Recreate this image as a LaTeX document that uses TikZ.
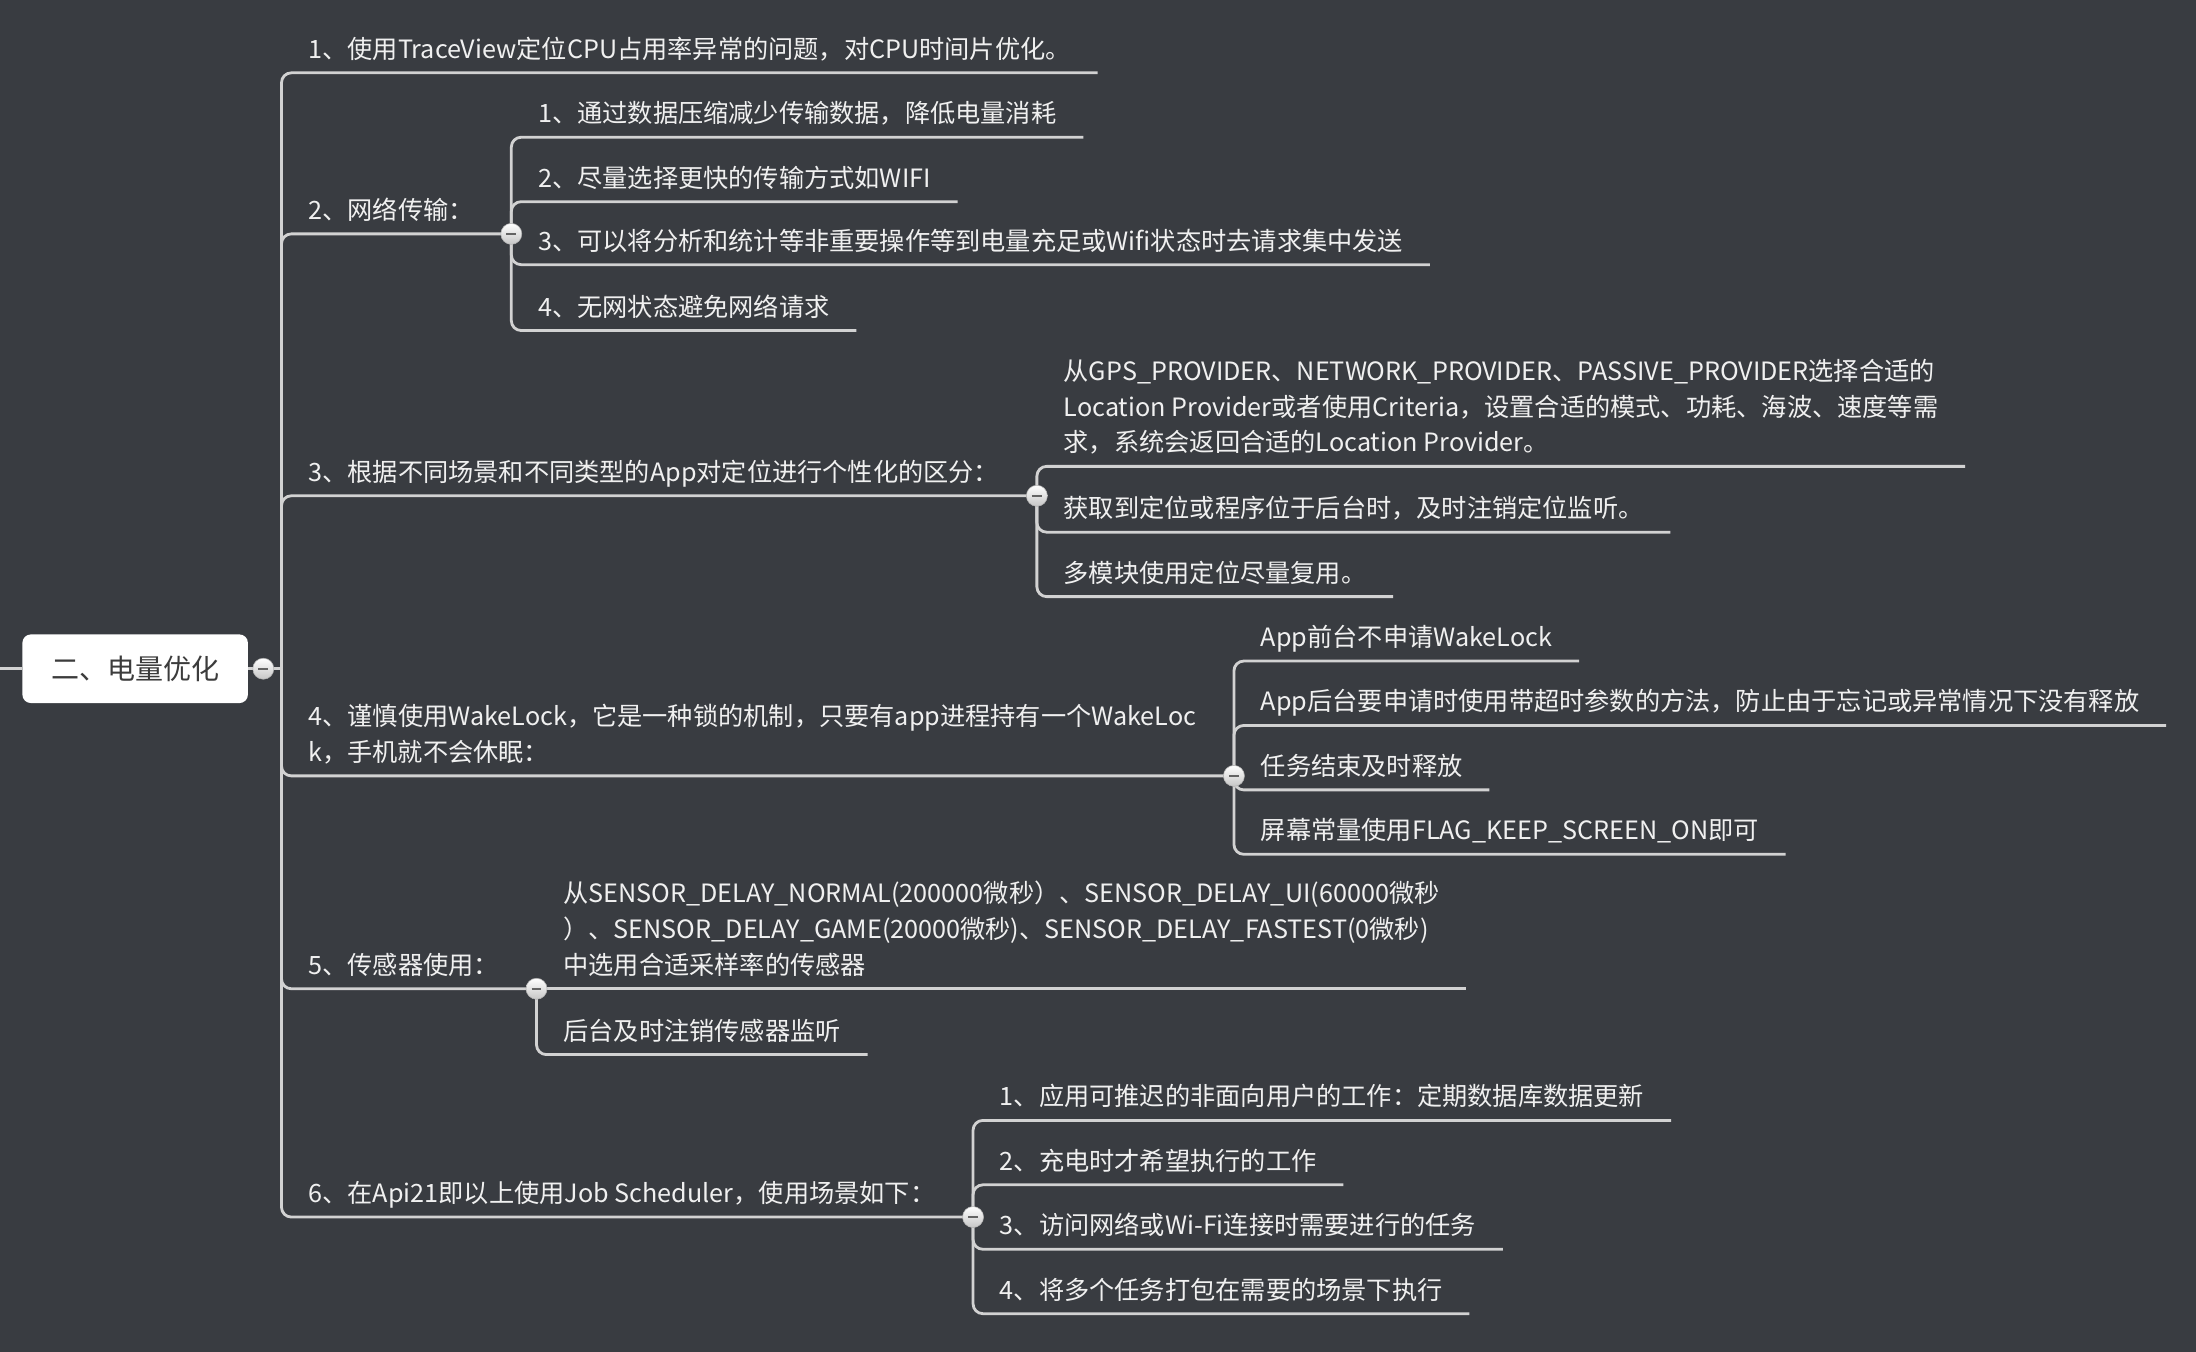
\documentclass[tikz,border=0pt]{standalone}
\usepackage{fontspec}
\setmainfont{Noto Sans CJK SC}
\usepackage{tikz}
\usetikzlibrary{positioning}
\usepackage{xcolor}
\definecolor{bgdark}{HTML}{393C41}
\definecolor{linkgray}{HTML}{D2D2D2}
\definecolor{txtlight}{HTML}{F0F0F0}
\definecolor{rootink}{HTML}{3C3C3C}
\pgfdeclarelayer{back}
\pgfsetlayers{back,main}

\begin{document}
\begin{tikzpicture}[
    x=1pt, y=-1pt,
    root/.style={fill=white, rounded corners=6pt, minimum width=161pt, minimum height=49pt, font=\fontsize{20}{24}\selectfont, text=rootink},
    topic/.style={anchor=south west, inner xsep=19pt, inner ysep=2.5pt, align=left, text=txtlight, font=\fontsize{18}{25.5}\selectfont, execute at end node=\strut},
    btn/.style={circle, draw=gray!60, top color=white, bottom color=gray!45, minimum size=15pt, inner sep=0pt,
        path picture={\draw[rootink!80, line width=1.6pt] ([xshift=-3.5pt]path picture bounding box.center) -- ([xshift=3.5pt]path picture bounding box.center);}},
    link/.style={draw=linkgray, line width=2pt, rounded corners=7pt}
]
\useasboundingbox (0,0) rectangle (1568,965.35);

\node[root] (root) at (96.5,477.5) {二、电量优化};
\coordinate (lft) at (0,477.5);
\node[btn] (rbtn) at (188,477.5) {};
\coordinate (trunk) at (201,477.5);

\node[topic] (t1) at (201,52) {1、使用TraceView定位CPU占用率异常的问题，对CPU时间片优化。};

\node[topic] (t2) at (201,167) {2、网络传输：};
\node[btn, right=0pt of t2.south east] (b2) {};
\node[topic] (t21) at (b2 |- 0,98) {1、通过数据压缩减少传输数据，降低电量消耗};
\node[topic] (t22) at (b2 |- 0,144) {2、尽量选择更快的传输方式如WIFI};
\node[topic] (t23) at (b2 |- 0,189) {3、可以将分析和统计等非重要操作等到电量充足或Wifi状态时去请求集中发送};
\node[topic] (t24) at (b2 |- 0,236) {4、无网状态避免网络请求};

\node[topic] (t3) at (201,354) {3、根据不同场景和不同类型的App对定位进行个性化的区分：};
\node[btn, right=0pt of t3.south east] (b3) {};
\node[topic] (t31) at (b3 |- 0,333) {从GPS\_PROVIDER、NETWORK\_PROVIDER、PASSIVE\_PROVIDER选择合适的\\Location Provider或者使用Criteria，设置合适的模式、功耗、海波、速度等需\\求，系统会返回合适的Location Provider。};
\node[topic] (t32) at (b3 |- 0,380) {获取到定位或程序位于后台时，及时注销定位监听。};
\node[topic] (t33) at (b3 |- 0,426) {多模块使用定位尽量复用。};

\node[topic] (t4) at (201,554) {4、谨慎使用WakeLock，它是一种锁的机制，只要有app进程持有一个WakeLoc\\k，手机就不会休眠：};
\node[btn, right=0pt of t4.south east] (b4) {};
\node[topic] (t41) at (b4 |- 0,472) {App前台不申请WakeLock};
\node[topic] (t42) at (b4 |- 0,518) {App后台要申请时使用带超时参数的方法，防止由于忘记或异常情况下没有释放};
\node[topic] (t43) at (b4 |- 0,564) {任务结束及时释放};
\node[topic] (t44) at (b4 |- 0,610) {屏幕常量使用FLAG\_KEEP\_SCREEN\_ON即可};

\node[topic] (t5) at (201,706) {5、传感器使用：};
\node[btn, right=0pt of t5.south east] (b5) {};
\node[topic] (t51) at (b5 |- 0,706) {从SENSOR\_DELAY\_NORMAL(200000微秒）、SENSOR\_DELAY\_UI(60000微秒\\）、SENSOR\_DELAY\_GAME(20000微秒)、SENSOR\_DELAY\_FASTEST(0微秒)\\中选用合适采样率的传感器};
\node[topic] (t52) at (b5 |- 0,753) {后台及时注销传感器监听};

\node[topic] (t6) at (201,869) {6、在Api21即以上使用Job Scheduler，使用场景如下：};
\node[btn, right=0pt of t6.south east] (b6) {};
\node[topic] (t61) at (b6 |- 0,800) {1、应用可推迟的非面向用户的工作：定期数据库数据更新};
\node[topic] (t62) at (b6 |- 0,846) {2、充电时才希望执行的工作};
\node[topic] (t63) at (b6 |- 0,892) {3、访问网络或Wi-Fi连接时需要进行的任务};
\node[topic] (t64) at (b6 |- 0,938) {4、将多个任务打包在需要的场景下执行};

\begin{pgfonlayer}{back}
\fill[bgdark] (0,0) rectangle (1568,965.35);
\draw[link] (lft) -- (root.west);
\draw[link] (root.east) -- (trunk);
\draw[link] (trunk) |- (t1.south east);
\foreach \knob in {b2,b3,b4,b5,b6}
    \draw[link] (trunk) |- (\knob.center);
\foreach \leaf in {21,22,23,24}
    \draw[link] (b2.center) |- (t\leaf.south east);
\foreach \leaf in {31,32,33}
    \draw[link] (b3.center) |- (t\leaf.south east);
\foreach \leaf in {41,42,43,44}
    \draw[link] (b4.center) |- (t\leaf.south east);
\draw[link] (b5.center) -- (t51.south east);
\draw[link] (b5.center) |- (t52.south east);
\foreach \leaf in {61,62,63,64}
    \draw[link] (b6.center) |- (t\leaf.south east);
\end{pgfonlayer}
\end{tikzpicture}
\end{document}
